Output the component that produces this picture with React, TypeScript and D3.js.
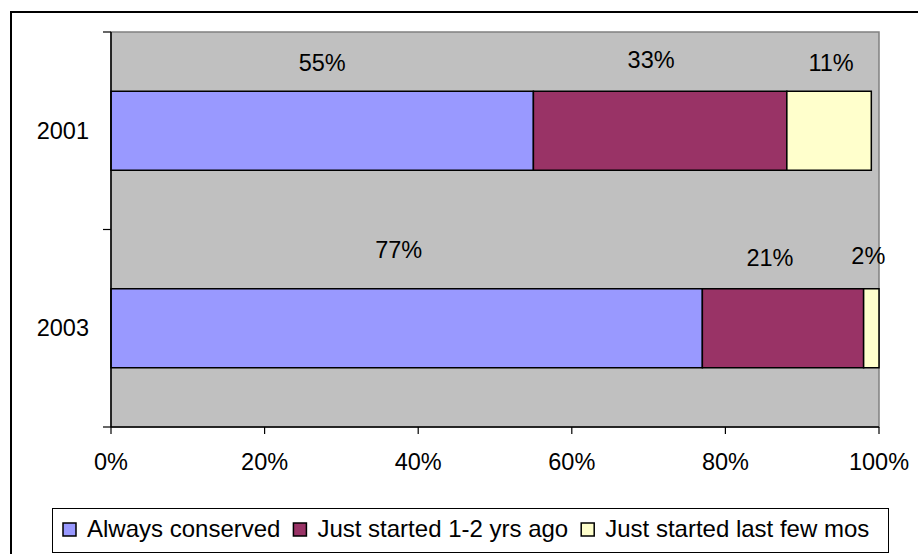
import React, { useEffect, useRef } from "react";
import * as d3 from "d3";

const categories = ["2001", "2003"];
const seriesNames = ["Always conserved", "Just started 1-2 yrs ago", "Just started last few mos"];
const alwaysConserved = [55, 77];
const started12Yrs = [33, 21];
const startedLastFewMos = [11, 2];
const xTickValues = [0, 20, 40, 60, 80, 100];

const COLORS = ["#9999FF", "#993366", "#FFFFCC"];
// manual label nudges (px) as placed in the reference, per category then series
const LABEL_NUDGE = [
  [[0, -20], [-9, -23], [2, -20]],
  [[-8, -31], [-13, -23], [-3, -25]],
];

const W = 918;
const H = 554;
const FONT = "'Liberation Sans', Arial, Helvetica, sans-serif";

export default function App() {
  const ref = useRef<SVGSVGElement | null>(null);

  useEffect(() => {
    const svg = d3.select(ref.current);
    svg.selectAll("*").remove();

    const plot = { left: 111, right: 879, top: 32, bottom: 427 };

    // outer chart border (extends beyond picture right/bottom)
    svg.append("rect")
      .attr("x", 11).attr("y", 12)
      .attr("width", W + 20).attr("height", H + 20)
      .attr("fill", "#fff").attr("stroke", "#000").attr("stroke-width", 2);

    const x = d3.scaleLinear().domain([0, 100]).range([plot.left, plot.right]);
    const y = d3.scaleBand<string>().domain(categories)
      .range([plot.top, plot.bottom]).paddingInner(0.6).paddingOuter(0.3);

    // plot area
    svg.append("rect")
      .attr("x", plot.left).attr("y", plot.top)
      .attr("width", plot.right - plot.left).attr("height", plot.bottom - plot.top)
      .attr("fill", "#C0C0C0").attr("stroke", "#808080").attr("stroke-width", 1.5);

    const rows = categories.map((c, i) => ({
      cat: c,
      s0: alwaysConserved[i],
      s1: started12Yrs[i],
      s2: startedLastFewMos[i],
    }));
    const stack = d3.stack<any>().keys(["s0", "s1", "s2"]);
    const stacked = stack(rows);

    stacked.forEach((layer, si) => {
      svg.append("g").selectAll("rect").data(layer).enter().append("rect")
        .attr("x", (d) => x(d[0]))
        .attr("y", (d) => y(d.data.cat)!)
        .attr("width", (d) => x(d[1]) - x(d[0]))
        .attr("height", y.bandwidth())
        .attr("fill", COLORS[si])
        .attr("stroke", "#000").attr("stroke-width", 1.5);
    });

    // data labels
    stacked.forEach((layer, si) => {
      layer.forEach((d, ci) => {
        const [dx, dy] = LABEL_NUDGE[ci][si];
        svg.append("text")
          .attr("x", x((d[0] + d[1]) / 2) + dx)
          .attr("y", y(d.data.cat)! + dy)
          .attr("text-anchor", "middle")
          .attr("font-family", FONT).attr("font-size", 23.5)
          .attr("fill", "#000")
          .text(`${d[1] - d[0]}%`);
      });
    });

    // axes lines
    svg.append("line").attr("x1", plot.left).attr("x2", plot.left)
      .attr("y1", plot.top).attr("y2", plot.bottom)
      .attr("stroke", "#000").attr("stroke-width", 1.5);
    svg.append("line").attr("x1", plot.left).attr("x2", plot.right)
      .attr("y1", plot.bottom).attr("y2", plot.bottom)
      .attr("stroke", "#000").attr("stroke-width", 1.5);

    // y ticks at category boundaries
    const step = (plot.bottom - plot.top) / categories.length;
    d3.range(categories.length + 1).forEach((i) => {
      const yy = plot.top + i * step;
      svg.append("line").attr("x1", plot.left - 8).attr("x2", plot.left)
        .attr("y1", yy).attr("y2", yy).attr("stroke", "#000").attr("stroke-width", 1.2);
    });
    categories.forEach((c) => {
      svg.append("text")
        .attr("x", plot.left - 22)
        .attr("y", y(c)! + y.bandwidth() / 2)
        .attr("dy", "0.33em")
        .attr("text-anchor", "end")
        .attr("font-family", FONT).attr("font-size", 23.5)
        .text(c);
    });

    // x ticks
    xTickValues.forEach((v) => {
      svg.append("line").attr("x1", x(v)).attr("x2", x(v))
        .attr("y1", plot.bottom).attr("y2", plot.bottom + 7)
        .attr("stroke", "#000").attr("stroke-width", 1.2);
      svg.append("text")
        .attr("x", x(v)).attr("y", plot.bottom + 43)
        .attr("text-anchor", "middle")
        .attr("font-family", FONT).attr("font-size", 23.5)
        .text(`${v}%`);
    });

    // legend
    const leg = svg.append("g");
    leg.append("rect")
      .attr("x", 52.5).attr("y", 508.5).attr("width", 836).attr("height", 44)
      .attr("fill", "#fff").attr("stroke", "#000").attr("stroke-width", 1);
    let lx = 63;
    seriesNames.forEach((name, i) => {
      leg.append("rect")
        .attr("x", lx).attr("y", 523).attr("width", 13).attr("height", 13)
        .attr("fill", COLORS[i]).attr("stroke", "#000").attr("stroke-width", 1.5);
      const t = leg.append("text")
        .attr("x", lx + 24).attr("y", 537)
        .attr("font-family", FONT).attr("font-size", 24)
        .text(name);
      const w = (t.node() as SVGTextElement).getComputedTextLength();
      lx = lx + 24 + w + 13;
    });
  }, []);

  return (
    <svg
      ref={ref}
      width={W}
      height={H}
      style={{ position: "absolute", left: 0, top: 0, background: "#fff" }}
    />
  );
}
